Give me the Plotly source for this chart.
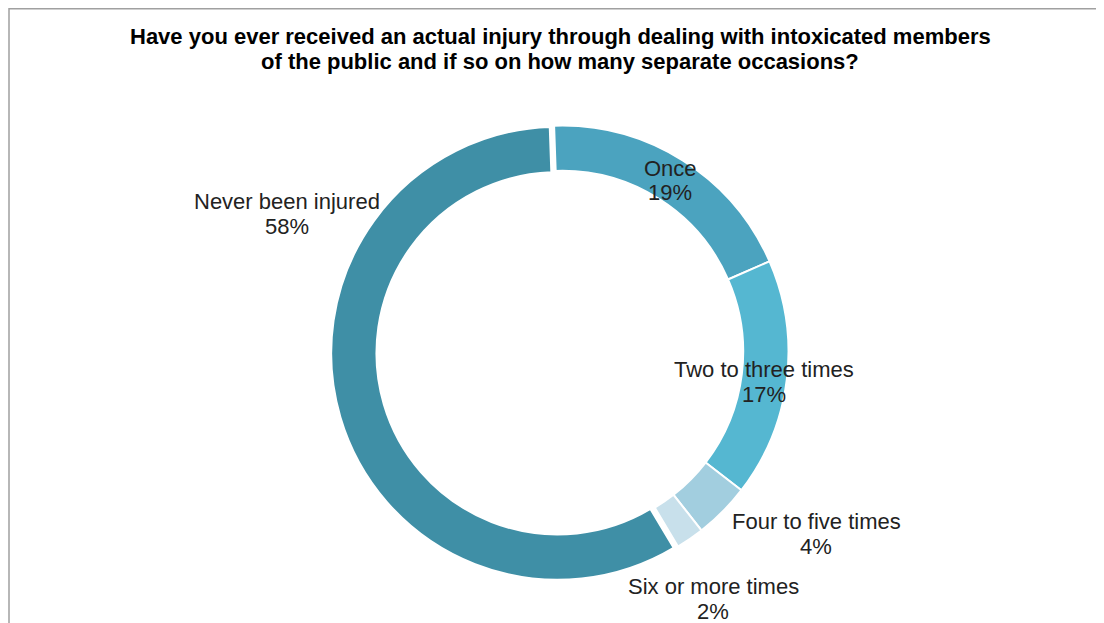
import plotly.graph_objects as go

# ---- data ----
categories = ["Once", "Two to three times", "Four to five times", "Six or more times", "Never been injured"]
percent = [19, 17, 4, 2, 58]
title_lines = ["Have you ever received an actual injury through dealing with intoxicated members",
               "of the public and if so on how many separate occasions?"]

# ---- styles / positions ----
colors = ["#4BA3BF", "#55B7D1", "#A2CEDF", "#C8E0EB", "#3F8FA6"]
pulls = [0, 0, 0, 0, 0.02]
OFF = 8                     # page body margin in the browser
W, H = 1104 - OFF, 623 - OFF
# label line-1 centres in reference pixels (x, y from top); line 2 sits 25 px lower
label_pos = [(670, 168), (764, 369), (816, 521), (713, 586), (287, 201)]
LINE_GAP = 25
title_pos = [(560, 37), (560, 62)]

cx, cy, Rmax = 562, 352, 231  # reference pixels


def px(x):
    return (x - OFF) / W


def py(y):
    return 1 - (y - OFF) / H


fig = go.Figure()
fig.add_trace(go.Pie(
    labels=categories,
    values=percent,
    sort=False,
    direction="clockwise",
    rotation=-2,
    hole=0.8,
    pull=pulls,
    marker=dict(colors=colors, line=dict(color="white", width=2)),
    textinfo="none",
    hoverinfo="label+percent",
    showlegend=False,
    domain=dict(x=[px(cx - Rmax), px(cx + Rmax)],
                y=[py(cy + Rmax), py(cy - Rmax)]),
))

lab_font = dict(family="Liberation Sans, Arial, sans-serif", size=22, color="#222222")
for cat, val, (x, y) in zip(categories, percent, label_pos):
    for i, line in enumerate([cat, f"{val}%"]):
        fig.add_annotation(
            x=px(x), y=py(y + i * LINE_GAP), xref="paper", yref="paper",
            text=line, showarrow=False, font=lab_font,
            xanchor="center", yanchor="middle",
        )

for line, (x, y) in zip(title_lines, title_pos):
    fig.add_annotation(
        x=px(x), y=py(y), xref="paper", yref="paper",
        text=f"<b>{line}</b>", showarrow=False,
        font=dict(family="Liberation Sans, Arial, sans-serif", size=22, color="#000000"),
        xanchor="center", yanchor="middle",
    )

# chart-area border (top and left edges visible)
fig.add_shape(type="rect", xref="paper", yref="paper",
              x0=px(9), x1=1.05, y0=-0.05, y1=1 - 0.75 / H,
              line=dict(color="#a0a0a0", width=1.5))

fig.update_layout(
    width=W, height=H,
    margin=dict(l=0, r=0, t=0, b=0),
    paper_bgcolor="white", plot_bgcolor="white",
)

fig.write_html("out.html")
